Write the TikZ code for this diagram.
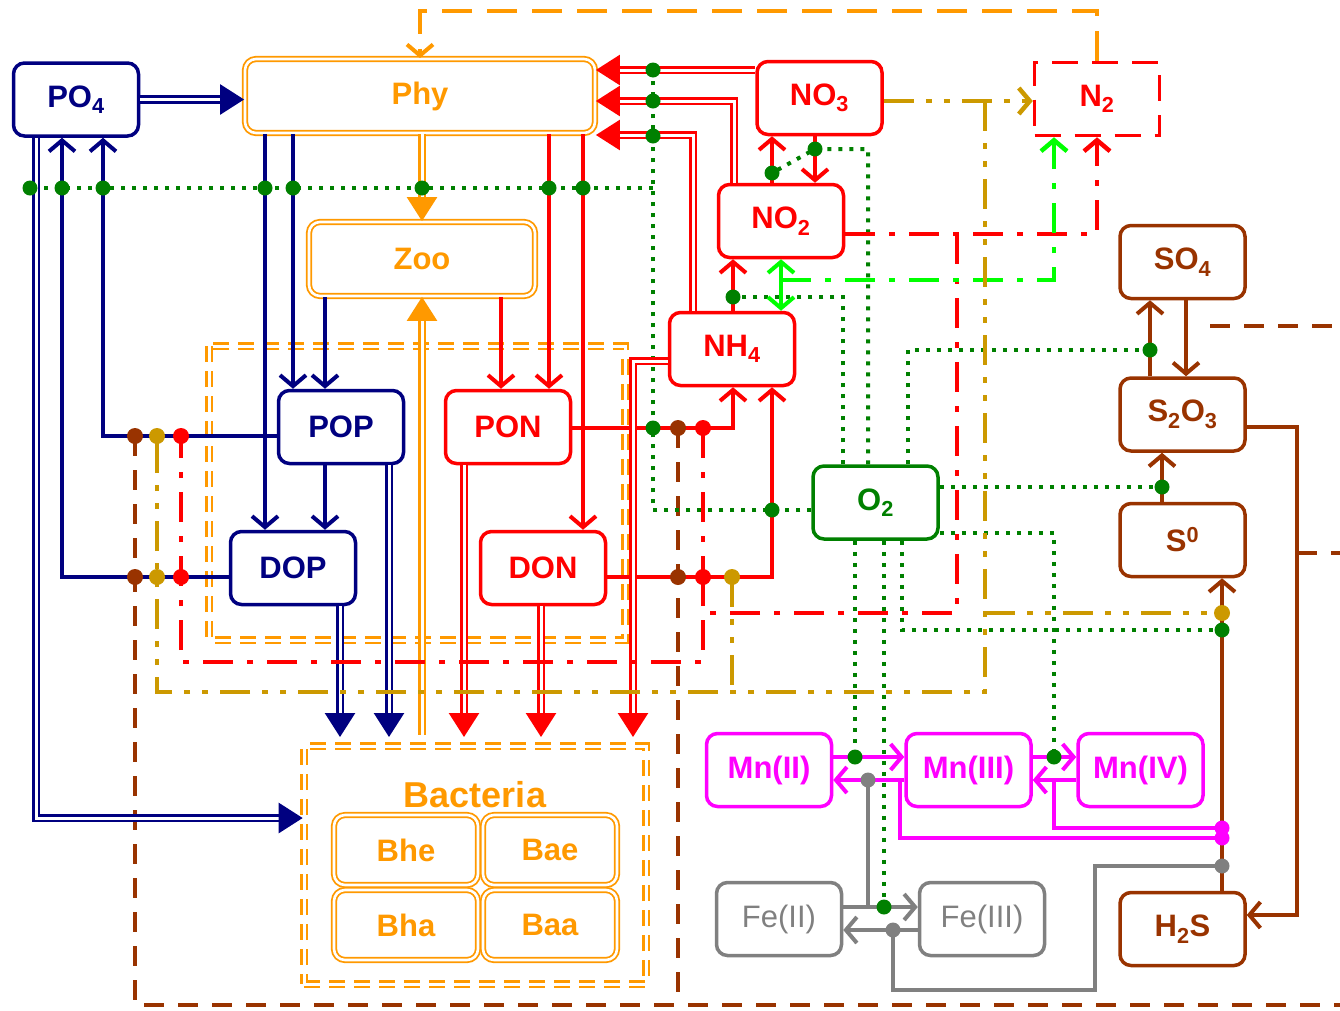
\documentclass[tikz,border=0pt]{standalone}
\usepackage{fontspec}
\setmainfont{Liberation Sans}
\usetikzlibrary{positioning,calc,arrows.meta}

\definecolor{pnavy}{RGB}{0,0,128}
\definecolor{porange}{RGB}{255,153,0}
\definecolor{nred}{RGB}{255,0,0}
\definecolor{ogreen}{RGB}{0,128,0}
\definecolor{lgreen}{RGB}{0,255,0}
\definecolor{sbrown}{RGB}{153,51,0}
\definecolor{dgold}{RGB}{204,153,0}
\definecolor{mnmag}{RGB}{255,0,255}
\definecolor{fegray}{RGB}{128,128,128}

\tikzset{
  box/.style={draw=#1, text=#1, fill=white, rounded corners=11pt, line width=3.5pt,
    minimum width=125pt, minimum height=73pt, inner sep=0pt,
    font=\fontsize{31}{36}\selectfont\bfseries},
  dbox/.style={box=#1, line width=1.8pt, double=white, double distance=2.6pt},
  dbl/.style={double=white, line width=2.6pt, double distance=3pt},
  tri/.style={-{Triangle[length=24pt,width=30pt]}},
  chev/.style={-{Straight Barb[length=11pt,width=26pt]}},
  pline/.style={draw=pnavy, line width=4pt},
  oline/.style={draw=porange, line width=4pt},
  nline/.style={draw=nred, line width=4pt},
  bline/.style={draw=sbrown, line width=4pt},
  mline/.style={draw=mnmag, line width=4pt},
  fline/.style={draw=fegray, line width=4pt},
  gdot/.style={draw=ogreen, line width=4pt, dash pattern=on 4pt off 7pt},
  nddot/.style={draw=nred, line width=4.5pt, dash pattern=on 30pt off 14pt on 6pt off 14pt},
  lgddot/.style={draw=lgreen, line width=4.5pt, dash pattern=on 30pt off 14pt on 6pt off 14pt},
  gdddot/.style={draw=dgold, line width=4.5pt, dash pattern=on 30pt off 12pt on 6pt off 12pt on 6pt off 12pt},
  bdash/.style={draw=sbrown, line width=4pt, dash pattern=on 20pt off 14pt},
  odash/.style={draw=porange, line width=4pt, dash pattern=on 30pt off 15pt},
  oddash/.style={draw=porange, line width=2.6pt, double=white, double distance=3pt, dash pattern=on 16pt off 9pt},
}

\begin{document}
\begin{tikzpicture}[x=1pt, y=-1pt]
  \useasboundingbox (0,0) rectangle (1340,1010);

  % pools
  \node (po4)  [box=pnavy]  at (76,99.5) {PO\textsubscript{4}};
  \node (phy)  [dbox=porange, minimum width=350pt, minimum height=74pt] at (420,96) {Phy};
  \node (zoo)  [dbox=porange, minimum width=226pt, minimum height=74pt] at (422,259) {Zoo};
  \node (pop)  [box=pnavy]  at (341,427) {POP};
  \node (dop)  [box=pnavy]  at (293,568) {DOP};
  \node (pon)  [box=nred]   at (508,427) {PON};
  \node (don)  [box=nred]   at (543,568) {DON};
  \node (no3)  [box=nred]   at (819.5,98) {NO\textsubscript{3}};
  \node (no2)  [box=nred]   at (781,221) {NO\textsubscript{2}};
  \node (nh4)  [box=nred]   at (732,349) {NH\textsubscript{4}};
  \node (n2)   [box=nred, rounded corners=0pt, dash pattern=on 26pt off 14pt] at (1097,99) {N\textsubscript{2}};
  \node (o2)   [box=ogreen] at (875.5,502.5) {O\textsubscript{2}};
  \node (so4)  [box=sbrown] at (1182.5,262) {SO\textsubscript{4}};
  \node (s2o3) [box=sbrown] at (1182.5,414.5) {S\textsubscript{2}O\textsubscript{3}};
  \node (s0)   [box=sbrown] at (1182.5,540) {S\textsuperscript{0}};
  \node (h2s)  [box=sbrown] at (1182.5,929) {H\textsubscript{2}S};
  \node (mn2)  [box=mnmag]  at (769,770) {Mn(II)};
  \node (mn3)  [box=mnmag]  at (968.5,770) {Mn(III)};
  \node (mn4)  [box=mnmag]  at (1140.5,770) {Mn(IV)};
  \node (fe2)  [box=fegray, font=\fontsize{31}{36}\selectfont] at (779,919) {Fe(II)};
  \node (fe3)  [box=fegray, font=\fontsize{31}{36}\selectfont] at (982,919) {Fe(III)};

  % bacteria
  \node (bact) [oddash, minimum width=342pt, minimum height=238pt] at (475,865) {};
  \node (bactlbl) [text=porange, font=\fontsize{36}{40}\selectfont\bfseries] at (475,795) {Bacteria};
  \node (bhe) [dbox=porange, minimum width=144pt, minimum height=70pt] at (406,850) {Bhe};
  \node (bae) [dbox=porange, minimum width=134pt, minimum height=70pt] at (550,850) {Bae};
  \node (bha) [dbox=porange, minimum width=144pt, minimum height=70pt] at (406,925) {Bha};
  \node (baa) [dbox=porange, minimum width=134pt, minimum height=70pt] at (550,925) {Baa};

  % frames
  \draw[oddash] (209,346) rectangle (625,640);
  \draw[bdash] (135,436) -- (135,1005) -- (1340,1005);
  \draw[bdash] (678,428) -- (678,1005);
  \draw[bdash] (1210,326) -- (1340,326);
  \draw[bdash] (1297,553) -- (1340,553);
  \draw[odash, chev] (n2.north) -- ++(0,-50) -| (phy.north);

  % oxygen
  \draw[gdot] (o2.west |- 0,510) -| (653,70);
  \draw[gdot] (653,188) -- (30,188);
  \draw[gdot] (843,0 |- o2.north) |- (733,297);
  \draw[gdot] (868,0 |- o2.north) |- (815,149) -- (772,173);
  \draw[gdot] (908,0 |- o2.north) |- (1150,350);
  \draw[gdot] (o2.east |- 0,487) -- (1162,487);
  \draw[gdot] (o2.east |- 0,533) -| (1054,757);
  \draw[gdot] (902,0 |- o2.south) |- (1222,630);
  \draw[gdot] (855,0 |- o2.south) -- (855,757);
  \draw[gdot] (884,0 |- o2.south) -- (884,907);

  % phosphorus
  \draw[pline, dbl, tri] (po4.east) -- (po4.east -| phy.west);
  \draw[pline, dbl, tri] (36,0 |- po4.south) -- (36,818) -- (bact.west |- 0,818);
  \draw[pline, chev] (pop.west |- 0,436) -| (103,0 |- po4.south);
  \draw[pline, chev] (dop.west |- 0,577) -| (62,0 |- po4.south);
  \draw[pline, chev] (265,0 |- phy.south) -- (265,0 |- dop.north);
  \draw[pline, chev] (293,0 |- phy.south) -- (293,0 |- pop.north);
  \draw[pline, chev] (325,0 |- zoo.south) -- (325,0 |- pop.north);
  \draw[pline, chev] (325,0 |- pop.south) -- (325,0 |- dop.north);
  \draw[pline, dbl, tri] (389,0 |- pop.south) -- (389,737);
  \draw[pline, dbl, tri] (340,0 |- dop.south) -- (340,737);

  % plankton
  \draw[oline, dbl, tri] (422,0 |- phy.south) -- (zoo.north);
  \draw[oline, dbl, tri, shorten <=10pt] (422,0 |- bact.north) -- (zoo.south);

  % nitrogen
  \draw[nline, dbl, tri] (no3.west |- 0,70) -- (phy.east |- 0,70);
  \draw[nline, dbl, tri] (734,0 |- no2.north) |- (phy.east |- 0,101);
  \draw[nline, dbl, tri] (693,0 |- nh4.north) |- (phy.east |- 0,135);
  \draw[nline, chev] (772,0 |- no2.north) -- (772,0 |- no3.south);
  \draw[nline, chev] (815,0 |- no3.south) -- (815,0 |- no2.north);
  \draw[nline, chev] (733,0 |- nh4.north) -- (733,0 |- no2.south);
  \draw[nline, chev] (549,0 |- phy.south) -- (549,0 |- pon.north);
  \draw[nline, chev] (583,0 |- phy.south) -- (583,0 |- don.north);
  \draw[nline, chev] (501,0 |- zoo.south) -- (501,0 |- pon.north);
  \draw[nline, chev] (pon.east |- 0,428) -| (733,0 |- nh4.south);
  \draw[nline, chev] (don.east |- 0,577) -| (772,0 |- nh4.south);
  \draw[nline, dbl, tri] (464,0 |- pon.south) -- (464,737);
  \draw[nline, dbl, tri] (541,0 |- don.south) -- (541,737);
  \draw[nline, dbl, tri] (nh4.west |- 0,361) -| (633,737);
  \draw[nddot, chev] (no2.east |- 0,234) -| (1097,0 |- n2.south);
  \draw[nddot] (957,234) -- (957,613) -- (703,613) -- (703,577);
  \draw[nddot] (703,428) -- (703,662) -- (181,662) -- (181,436);
  \draw[lgreen, line width=4pt, {Straight Barb[length=11pt,width=26pt]}-{Straight Barb[length=11pt,width=26pt]}]
    (781,0 |- no2.south) -- (781,0 |- nh4.north);
  \draw[lgddot, chev] (781,280) -| (1054,0 |- n2.south);
  \draw[gdddot, chev] (no3.east |- 0,101) -- (n2.west |- 0,101);
  \draw[gdddot] (985,101) -- (985,692) -- (157,692) -- (157,436);
  \draw[gdddot] (732,577) -- (732,692);
  \draw[gdddot] (985,613) -- (1222,613);

  % sulfur
  \draw[bline, chev] (1150,0 |- s2o3.north) -- (1150,0 |- so4.south);
  \draw[bline, chev] (1186,0 |- so4.south) -- (1186,0 |- s2o3.north);
  \draw[bline, chev] (1162,0 |- s0.north) -- (1162,0 |- s2o3.south);
  \draw[bline, chev] (1222,0 |- h2s.north) -- (1222,0 |- s0.south);
  \draw[bline, chev] (s2o3.east |- 0,427) -| (1297,915) -- (h2s.east |- 0,915);

  % manganese and iron
  \draw[mline, chev] (mn2.east |- 0,757) -- (mn3.west |- 0,757);
  \draw[mline, chev] (mn3.west |- 0,780) -- (mn2.east |- 0,780);
  \draw[mline, chev] (mn3.east |- 0,757) -- (mn4.west |- 0,757);
  \draw[mline, chev] (mn4.west |- 0,780) -- (mn3.east |- 0,780);
  \draw[mline] (1222,838) -| (900,780);
  \draw[mline] (1222,828) -| (1054,780);
  \draw[fline, chev] (fe2.east |- 0,907) -- (fe3.west |- 0,907);
  \draw[fline, chev] (fe3.west |- 0,930) -- (fe2.east |- 0,930);
  \draw[fline] (868,907) -- (868,780);
  \draw[fline] (893,930) -- (893,990) -- (1095,990) -- (1095,866) -- (1222,866);

  % junctions
  \foreach \p in {(30,188),(62,188),(103,188),(265,188),(293,188),(422,188),(549,188),(583,188),
      (653,70),(653,101),(653,136),(653,428),(733,297),(772,173),(815,149),(772,510),
      (1150,350),(1162,487),(1222,630),(855,757),(1054,757),(884,907)}
    \fill[ogreen] \p circle (7.5pt);
  \foreach \p in {(135,436),(135,577),(678,428),(678,577)}
    \fill[sbrown] \p circle (8pt);
  \foreach \p in {(157,436),(157,577),(732,577),(1222,613)}
    \fill[dgold] \p circle (8pt);
  \foreach \p in {(181,436),(181,577),(703,428),(703,577)}
    \fill[nred] \p circle (8pt);
  \foreach \p in {(1222,828),(1222,838)}
    \fill[mnmag] \p circle (7.5pt);
  \foreach \p in {(868,780),(893,930),(1222,866)}
    \fill[fegray] \p circle (7.5pt);
\end{tikzpicture}
\end{document}
